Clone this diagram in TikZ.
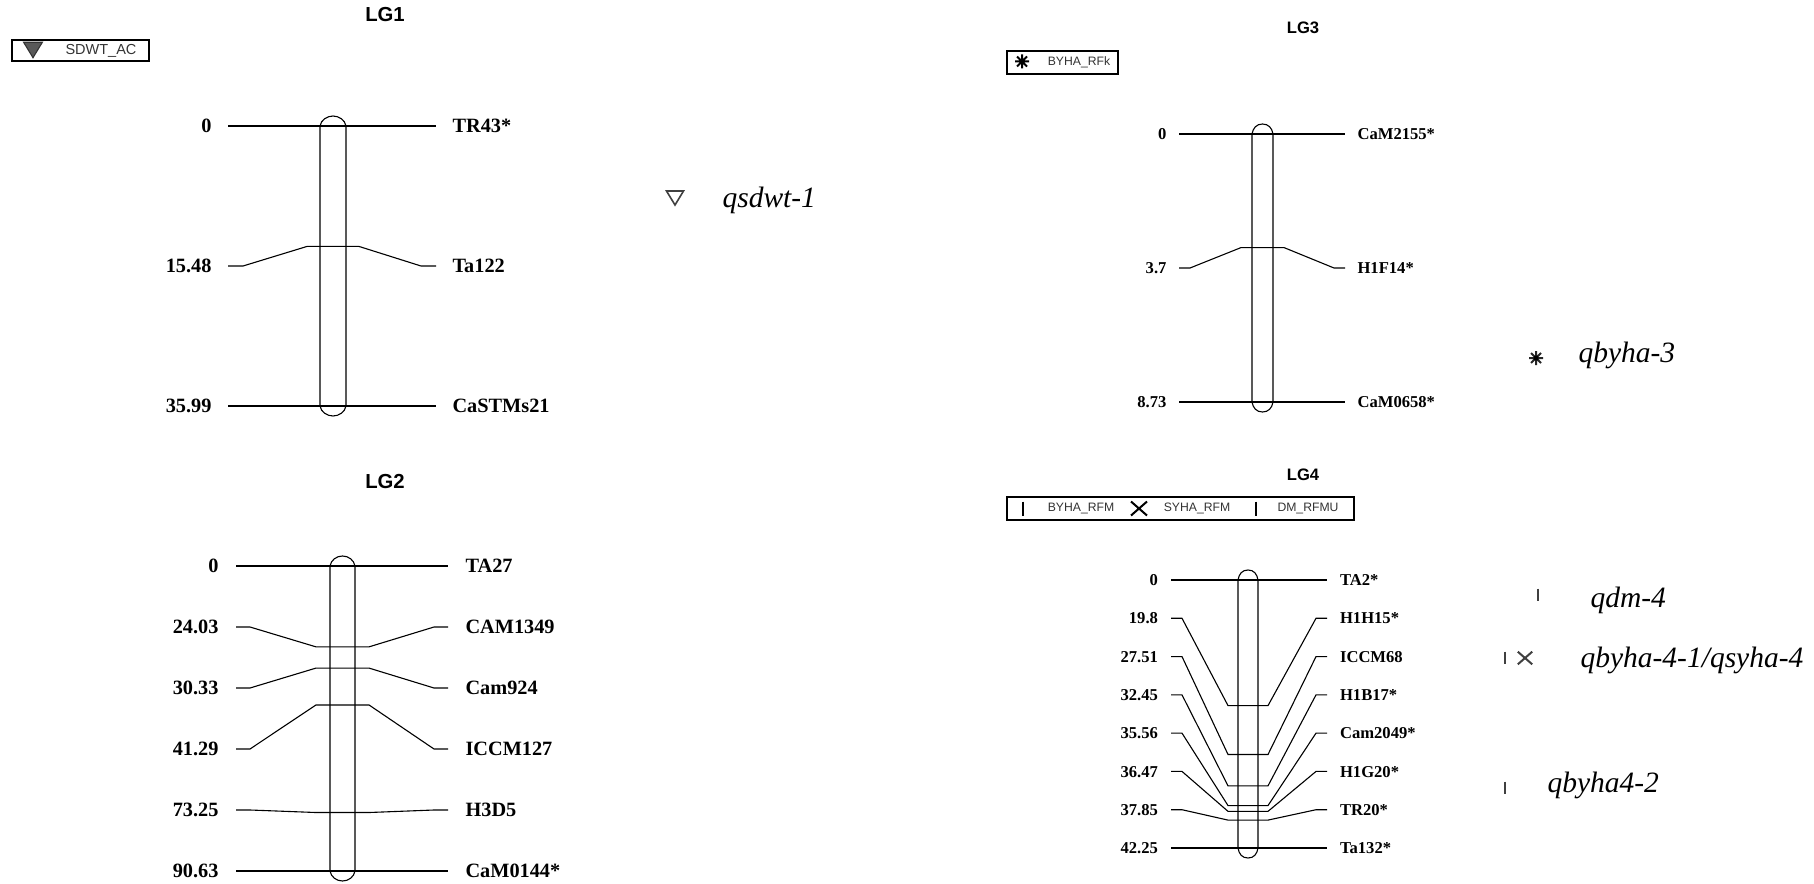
\documentclass[tikz,border=0pt]{standalone}
\usepackage{fontspec}
\setmainfont{Liberation Serif}
\setsansfont{Liberation Sans}
\usetikzlibrary{calc}

\newcommand{\lgmarkers}[3]{%
  \foreach \cm/\mk [count=\i from 0] in {#3} {
    \pgfmathsetmacro{\ly}{\yt+\i/#2*(\yb-\yt)}
    \pgfmathsetmacro{\cy}{\yt+\cm/\len*(\yb-\yt)}
    \node[cmlabel] (#1-cm\i) at (\xL,\ly) {\cm};
    \node[mklabel] (#1-mk\i) at (\xR,\ly) {\mk};
    \draw (#1-cm\i.east) -- ++(\flat,0) -- (\xl-\ext,\cy) -- (\xr+\ext,\cy)
      -- ($(#1-mk\i.west)+(-\flat,0)$) -- (#1-mk\i.west);
  }
  \pgfmathsetmacro{\xc}{(\xl+\xr)/2}
  \draw (\xl,\yt) -- (\xl,\yb)
    .. controls (\xl+1,\yb+6) and (\xc-6,\yb+10) .. (\xc,\yb+10)
    .. controls (\xc+6,\yb+10) and (\xr-1,\yb+6) .. (\xr,\yb)
    -- (\xr,\yt)
    .. controls (\xr-1,\yt-6) and (\xc+6,\yt-10) .. (\xc,\yt-10)
    .. controls (\xc-6,\yt-10) and (\xl+1,\yt-6) .. cycle;
}

\begin{document}
\begin{tikzpicture}[x=1pt, y=-1pt, line width=1.1pt,
  lgtitle/.style={font=\sffamily\bfseries\fontsize{\fs}{24}\selectfont},
  cmlabel/.style={anchor=east, inner xsep=\gap pt, inner ysep=0pt,
    text height=\fh pt, text depth=0pt, font=\bfseries\fontsize{\fs}{24}\selectfont},
  mklabel/.style={anchor=west, inner xsep=\gap pt, inner ysep=0pt,
    text height=\fh pt, text depth=0pt, font=\bfseries\fontsize{\fs}{24}\selectfont},
  legbox/.style={draw, line width=1.2pt, inner sep=0pt},
  legtext/.style={text=black!80, inner sep=0pt, font=\sffamily\fontsize{12.2}{14}\selectfont},
  qtlname/.style={anchor=base west, inner sep=0pt, font=\itshape\fontsize{29.5}{32}\selectfont},
  qtltri/.pic={\draw[pic actions] (-8.5,-7) -- (8.5,-7) -- (0,7) -- cycle;},
  qtlbar/.pic={\draw[line width=2pt, pic actions] (0,-7) -- (0,7);},
  qtlcross/.pic={\draw[line width=2pt, pic actions] (-8,-7) -- (8,7) (-8,7) -- (8,-7);},
  qtlstar/.pic={\draw[line width=2pt, pic actions] (-7,0) -- (7,0) (0,-7) -- (0,7)
    (-5,-5) -- (5,5) (-5,5) -- (5,-5);},
]
  \useasboundingbox (0,0) rectangle (1814,883);

  % LG1
  \def\fs{20.3}\def\fh{13.8}\def\gap{16}\def\flat{15}\def\ext{13}
  \node[lgtitle] (lg1) at (385,15) {LG1};
  \node[legbox, minimum width=137pt, minimum height=21pt] (leg1) at (80.5,50.5) {};
  \pic[draw=black!80, fill=black!65, scale=1.1] at (33,50) {qtltri};
  \node[legtext, font=\sffamily\fontsize{14.5}{16}\selectfont] (leg1-a) at (101,50.5) {SDWT\_AC};
  \def\xL{228}\def\xl{320}\def\xr{346}\def\xR{436}
  \def\yt{126}\def\yb{406}\def\len{35.99}
  \lgmarkers{lg1}{2}{0/TR43*, 15.48/Ta122, 35.99/CaSTMs21}

  % LG2
  \def\gap{17}\def\flat{14}\def\ext{14}
  \node[lgtitle] (lg2) at (385,482) {LG2};
  \def\xL{236}\def\xl{330}\def\xr{355}\def\xR{448}
  \def\yt{566}\def\yb{871}\def\len{90.63}
  \lgmarkers{lg2}{5}{0/TA27, 24.03/CAM1349, 30.33/Cam924, 41.29/ICCM127,
    73.25/H3D5, 90.63/CaM0144*}

  % LG3
  \def\fs{16.6}\def\fh{11.3}\def\gap{12}\def\flat{11}\def\ext{11}
  \node[lgtitle] (lg3) at (1303,28) {LG3};
  \node[legbox, minimum width=111pt, minimum height=23pt] (leg3) at (1062.5,62.5) {};
  \pic[draw=black] at (1022,61.5) {qtlstar};
  \node[legtext] (leg3-a) at (1079,62.5) {BYHA\_RFk};
  \def\xL{1179}\def\xl{1252}\def\xr{1273}\def\xR{1345}
  \def\yt{134}\def\yb{402}\def\len{8.73}
  \lgmarkers{lg3}{2}{0/CaM2155*, 3.7/H1F14*, 8.73/CaM0658*}

  % LG4
  \def\gap{12.5}\def\flat{11}\def\ext{10}
  \node[lgtitle] (lg4) at (1303,475) {LG4};
  \node[legbox, minimum width=347pt, minimum height=23pt] (leg4) at (1180.5,508.5) {};
  \pic[draw=black] at (1023,508.5) {qtlbar};
  \node[legtext] (leg4-a) at (1081,508.5) {BYHA\_RFM};
  \pic[draw=black] at (1139,508.5) {qtlcross};
  \node[legtext] (leg4-b) at (1197,508.5) {SYHA\_RFM};
  \pic[draw=black] at (1256,508.5) {qtlbar};
  \node[legtext] (leg4-c) at (1308,508.5) {DM\_RFMU};
  \def\xL{1171}\def\xl{1238}\def\xr{1258}\def\xR{1327}
  \def\yt{580}\def\yb{848}\def\len{42.25}
  \lgmarkers{lg4}{7}{0/TA2*, 19.8/H1H15*, 27.51/ICCM68, 32.45/H1B17*,
    35.56/Cam2049*, 36.47/H1G20*, 37.85/TR20*, 42.25/Ta132*}

  % QTL names
  \pic[draw=black!75, line width=1.6pt] at (675,198) {qtltri};
  \node[qtlname] (q1) at (722,207) {qsdwt-1};
  \pic[draw=black!85, fill=black] at (1536,358) {qtlstar};
  \fill[black] (1536,358) circle (2.5pt);
  \node[qtlname] (q3) at (1578,362) {qbyha-3};
  \pic[draw=black!75, scale=0.9] at (1538,595) {qtlbar};
  \node[qtlname] (q4a) at (1590,607) {qdm-4};
  \pic[draw=black!75, scale=0.9] at (1505,658) {qtlbar};
  \pic[draw=black!75, scale=0.9] at (1525,658) {qtlcross};
  \node[qtlname] (q4b) at (1580,667) {qbyha-4-1/qsyha-4};
  \pic[draw=black!75, scale=0.9] at (1505,788) {qtlbar};
  \node[qtlname] (q4c) at (1547,792) {qbyha4-2};
\end{tikzpicture}
\end{document}
